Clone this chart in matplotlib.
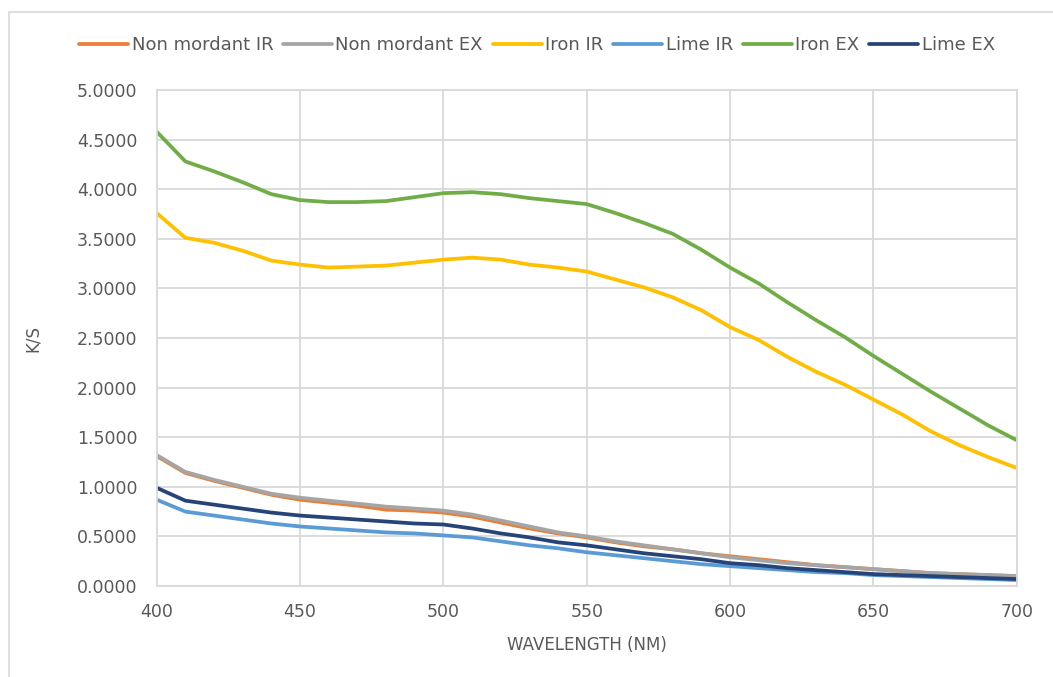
import matplotlib.pyplot as plt
from matplotlib.patches import Rectangle
from matplotlib.ticker import FormatStrFormatter

# wavelength (nm)
wavelength = [400, 410, 420, 430, 440, 450, 460, 470, 480, 490, 500,
              510, 520, 530, 540, 550, 560, 570, 580, 590, 600,
              610, 620, 630, 640, 650, 660, 670, 680, 690, 700]

non_mordant_ir = [1.31, 1.14, 1.06, 0.99, 0.92, 0.87, 0.84, 0.81, 0.77, 0.76, 0.74,
                  0.70, 0.64, 0.58, 0.53, 0.49, 0.44, 0.40, 0.37, 0.33, 0.30,
                  0.27, 0.24, 0.21, 0.19, 0.17, 0.15, 0.13, 0.12, 0.11, 0.10]
non_mordant_ex = [1.32, 1.15, 1.07, 1.00, 0.93, 0.89, 0.86, 0.83, 0.80, 0.78, 0.76,
                  0.72, 0.66, 0.60, 0.54, 0.50, 0.45, 0.41, 0.37, 0.33, 0.29,
                  0.26, 0.23, 0.21, 0.19, 0.17, 0.15, 0.13, 0.12, 0.11, 0.10]
iron_ir = [3.76, 3.51, 3.46, 3.38, 3.28, 3.24, 3.21, 3.22, 3.23, 3.26, 3.29,
           3.31, 3.29, 3.24, 3.21, 3.17, 3.09, 3.01, 2.91, 2.78, 2.61,
           2.48, 2.31, 2.16, 2.03, 1.88, 1.73, 1.56, 1.42, 1.30, 1.19]
lime_ir = [0.87, 0.75, 0.71, 0.67, 0.63, 0.60, 0.58, 0.56, 0.54, 0.53, 0.51,
           0.49, 0.45, 0.41, 0.38, 0.34, 0.31, 0.28, 0.25, 0.22, 0.20,
           0.18, 0.16, 0.14, 0.13, 0.11, 0.10, 0.09, 0.08, 0.07, 0.06]
iron_ex = [4.58, 4.28, 4.18, 4.07, 3.95, 3.89, 3.87, 3.87, 3.88, 3.92, 3.96,
           3.97, 3.95, 3.91, 3.88, 3.85, 3.76, 3.66, 3.55, 3.39, 3.21,
           3.05, 2.86, 2.68, 2.51, 2.32, 2.14, 1.96, 1.79, 1.62, 1.47]
lime_ex = [0.99, 0.86, 0.82, 0.78, 0.74, 0.71, 0.69, 0.67, 0.65, 0.63, 0.62,
           0.58, 0.53, 0.49, 0.44, 0.41, 0.37, 0.33, 0.30, 0.27, 0.23,
           0.21, 0.18, 0.16, 0.14, 0.12, 0.11, 0.10, 0.09, 0.08, 0.07]

series = [
    ('Non mordant IR', non_mordant_ir, '#ED7D31'),
    ('Non mordant EX', non_mordant_ex, '#A5A5A5'),
    ('Iron IR', iron_ir, '#FFC000'),
    ('Lime IR', lime_ir, '#5B9BD5'),
    ('Iron EX', iron_ex, '#70AD47'),
    ('Lime EX', lime_ex, '#264478'),
]

text_col = '#595959'
grid_col = '#D9D9D9'

fig = plt.figure(figsize=(10.53, 6.77), dpi=100)
ax = fig.add_axes([156.7/1053, 1-586/677, (1016.7-156.7)/1053, (586-90)/677])

for name, vals, col in series:
    ax.plot(wavelength, vals, color=col, lw=2.7, label=name, solid_capstyle='round')

ax.set_xlim(400, 700)
ax.set_ylim(0, 5)
ax.set_xticks(range(400, 701, 50))
ax.set_yticks([i*0.5 for i in range(11)])
ax.yaxis.set_major_formatter(FormatStrFormatter('%.4f'))
ax.grid(True, color=grid_col, lw=1.3)
ax.set_axisbelow(True)
for s in ax.spines.values():
    s.set_color(grid_col)
    s.set_linewidth(1.3)
ax.tick_params(length=0, labelsize=12.5, labelcolor=text_col)
ax.tick_params(axis='y', pad=14)
ax.tick_params(axis='x', pad=12)
ax.set_xlabel('WAVELENGTH (NM)', fontsize=12, color=text_col, labelpad=11)
ax.set_ylabel('K/S', fontsize=12, color=text_col, labelpad=25)

fig.legend(loc='center', bbox_to_anchor=(537/1053, 1-45/677), ncol=6, frameon=False,
           fontsize=13, labelcolor=text_col, handlelength=2.7, handletextpad=0.2,
           columnspacing=0.55)

fig.patches.append(Rectangle((9/1053, -0.1), 1.2, 1.1-12/677, transform=fig.transFigure,
                             fill=False, edgecolor=grid_col, lw=1.2, clip_on=False))

fig.savefig('out.png', dpi=100)
